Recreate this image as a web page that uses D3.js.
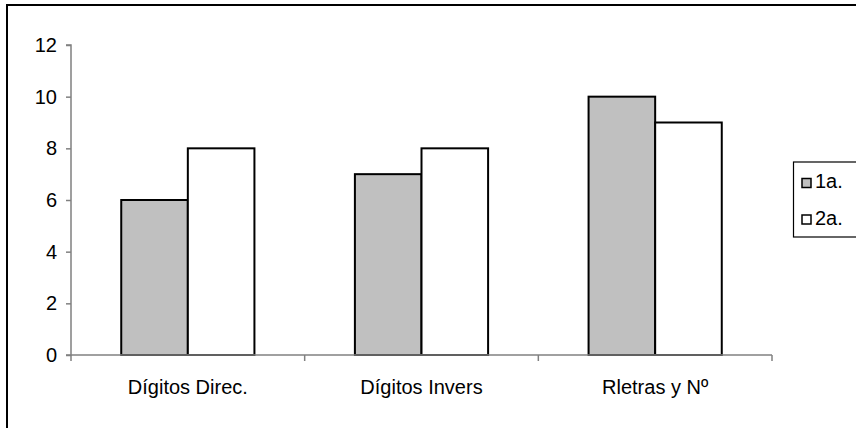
<!DOCTYPE html>
<html><head><meta charset="utf-8">
<script src="https://cdn.jsdelivr.net/npm/d3@7"></script>
<style>body{margin:0;background:#fff}svg{display:block}text{font-family:"Liberation Sans",Arial,sans-serif}</style>
</head><body>
<script>
const categories = ["Dígitos Direc.", "Dígitos Invers", "Rletras y Nº"];
const seriesNames = ["1a.", "2a."];
const serie1 = [6, 7, 10];
const serie2 = [8, 8, 9];
const yTicks = [0, 2, 4, 6, 8, 10, 12];
const colors = ["#c0c0c0", "#ffffff"];

(function () {
const W = 856, H = 428;
const svg = d3.select("body").append("svg").attr("width", W).attr("height", H);
// outer chart border (clipped on right/bottom)
svg.append("rect").attr("x", 7).attr("y", 5).attr("width", 900).attr("height", 500)
  .attr("fill", "none").attr("stroke", "#000").attr("stroke-width", 2);

const mLeft = 71, mRight = 772, mTop = 45, mBottom = 355;
const x0 = d3.scaleBand().domain(categories).range([mLeft, mRight]).padding(0);
const bw = x0.bandwidth();
const x1 = d3.scaleBand().domain(seriesNames).range([bw * 0.215, bw * 0.785]).padding(0);
const y = d3.scaleLinear().domain([0, 12]).range([mBottom, mTop]);

const data = categories.map((c, i) => ({cat: c, vals: [serie1[i], serie2[i]]}));
const fs = 20;

// bars
const g = svg.append("g");
data.forEach(d => {
  d.vals.forEach((v, j) => {
    g.append("rect")
      .attr("x", x0(d.cat) + x1(seriesNames[j]))
      .attr("y", y(v))
      .attr("width", x1.bandwidth())
      .attr("height", y(0) - y(v))
      .attr("fill", colors[j]).attr("stroke", "#000").attr("stroke-width", 2);
  });
});

// y axis
const yAxis = svg.append("g").attr("transform", `translate(${mLeft},0)`)
  .call(d3.axisLeft(y).tickValues(yTicks).tickSize(5).tickPadding(6).tickFormat(d3.format("d")));
yAxis.select(".domain").attr("stroke", "#808080").attr("stroke-width", 1.5).attr("d", `M-5,${mTop}H0V${mBottom}H-5`);
yAxis.selectAll(".tick line").attr("stroke", "#808080").attr("stroke-width", 1.5);
yAxis.selectAll(".tick text").attr("font-size", fs).attr("fill", "#000").attr("dx", "-3");

// x axis
const xAxis = svg.append("g").attr("transform", `translate(0,${mBottom})`);
xAxis.append("line").attr("x1", mLeft).attr("x2", mRight).attr("y1", 0).attr("y2", 0)
  .attr("stroke", "#808080").attr("stroke-width", 1.5);
const bounds = categories.map(c => x0(c)).concat([mRight]);
xAxis.selectAll("line.t").data(bounds).enter().append("line").attr("class", "t")
  .attr("x1", d => d).attr("x2", d => d).attr("y1", 0).attr("y2", 6)
  .attr("stroke", "#808080").attr("stroke-width", 1.5);
xAxis.selectAll("text.c").data(categories).enter().append("text").attr("class", "c")
  .attr("x", d => x0(d) + bw / 2).attr("y", 39)
  .attr("text-anchor", "middle").attr("font-size", fs).attr("fill", "#000").text(d => d);

// legend
const lg = svg.append("g");
lg.append("rect").attr("x", 793.5).attr("y", 162).attr("width", 80).attr("height", 75)
  .attr("fill", "#fff").attr("stroke", "#000").attr("stroke-width", 1.2);
seriesNames.forEach((s, j) => {
  const cy = 183 + j * 36.5;
  lg.append("rect").attr("x", 802).attr("y", cy - 4.5).attr("width", 9).attr("height", 9)
    .attr("fill", colors[j]).attr("stroke", "#000").attr("stroke-width", 1.5);
  lg.append("text").attr("x", 815).attr("y", cy + 5).attr("font-size", fs).attr("fill", "#000").text(s);
});
})();
</script>
</body></html>
